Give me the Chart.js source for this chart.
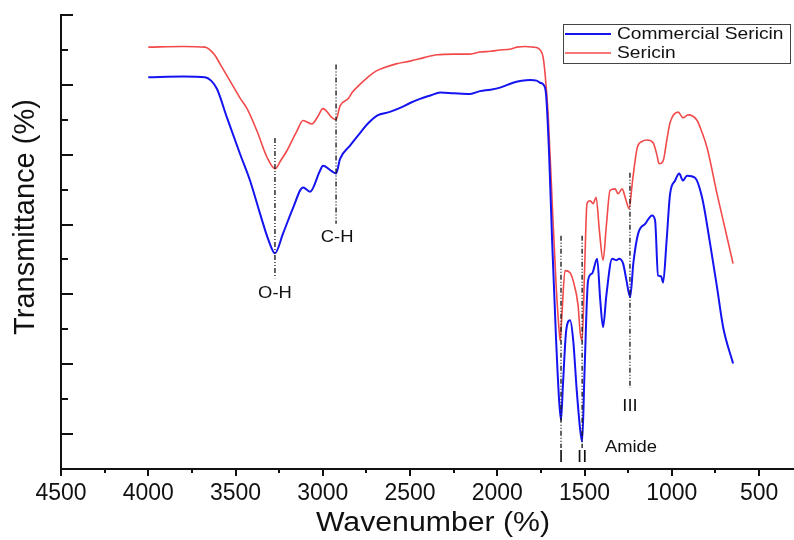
<!DOCTYPE html>
<html>
<head>
<meta charset="utf-8">
<script src="https://cdn.jsdelivr.net/npm/chart.js@4.4.0/dist/chart.umd.min.js"></script>
<style>
  html, body { margin: 0; padding: 0; background: #fff; }
</style>
</head>
<body>
<canvas id="chart" width="794" height="540"></canvas>
<script>
// FTIR spectra, values (wavenumber, transmittance a.u.)
const sericinWave = [4000, 3800, 3675, 3620, 3589, 3530, 3474, 3434, 3377, 3319, 3274, 3240, 3205, 3148, 3113, 3062, 3030, 2999, 2947, 2924, 2901, 2855, 2832, 2790, 2746, 2700, 2655, 2580, 2500, 2420, 2345, 2250, 2156, 2099, 2040, 1984, 1930, 1887, 1840, 1795, 1770, 1755, 1738, 1726, 1709, 1686, 1663, 1646, 1640, 1630, 1612, 1583, 1566, 1537, 1525, 1514, 1500, 1486, 1468, 1460, 1451, 1434, 1415, 1394, 1375, 1354, 1325, 1308, 1285, 1265, 1245, 1225, 1199, 1170, 1142, 1107, 1085, 1073, 1050, 1030, 1010, 964, 936, 907, 855, 830, 798, 741, 706, 649];
const sericinT = [60.4, 60.5, 60.4, 59.3, 58.0, 55.5, 53.1, 51.6, 48.4, 44.6, 43.0, 44.2, 45.6, 48.4, 49.9, 49.4, 50.4, 51.6, 50.3, 50.0, 52.0, 53.0, 53.9, 55.0, 56.0, 56.9, 57.4, 58.0, 58.4, 58.9, 59.3, 59.4, 59.4, 59.7, 59.8, 60.0, 60.1, 60.4, 60.5, 60.4, 60.3, 60.0, 59.0, 56.5, 50.9, 38.4, 26.3, 19.9, 18.4, 22.0, 28.4, 28.1, 27.0, 23.4, 19.5, 18.4, 28.4, 38.0, 38.4, 38.2, 38.0, 38.9, 34.1, 29.9, 34.9, 39.9, 40.1, 39.4, 40.1, 38.7, 37.3, 41.3, 45.9, 46.9, 47.1, 46.7, 44.9, 43.7, 44.1, 46.9, 49.6, 51.1, 50.3, 50.7, 49.9, 48.4, 46.0, 39.4, 35.6, 29.4];

const commercialWave = [4000, 3800, 3675, 3640, 3606, 3549, 3474, 3417, 3360, 3310, 3274, 3228, 3170, 3113, 3073, 3016, 2999, 2947, 2924, 2901, 2844, 2787, 2740, 2689, 2620, 2557, 2500, 2443, 2380, 2328, 2250, 2156, 2099, 2040, 1984, 1910, 1860, 1812, 1775, 1755, 1735, 1721, 1704, 1686, 1663, 1646, 1635, 1624, 1605, 1583, 1565, 1545, 1525, 1514, 1500, 1480, 1457, 1428, 1410, 1394, 1375, 1342, 1319, 1302, 1279, 1260, 1239, 1220, 1193, 1153, 1113, 1096, 1079, 1062, 1050, 1030, 1010, 981, 958, 936, 913, 867, 827, 781, 741, 706, 649];
const commercialT = [56.1, 56.2, 56.1, 55.6, 54.4, 50.3, 45.1, 41.3, 36.6, 32.7, 30.9, 33.7, 37.4, 40.3, 39.7, 42.7, 43.4, 42.6, 42.3, 44.4, 46.3, 48.1, 49.5, 50.6, 51.1, 51.7, 52.4, 53.0, 53.5, 53.9, 53.8, 53.7, 54.1, 54.3, 54.6, 55.3, 55.6, 55.7, 55.6, 55.3, 55.0, 53.7, 45.6, 32.7, 18.4, 9.9, 7.0, 12.0, 19.9, 21.3, 18.4, 11.3, 5.6, 3.9, 14.1, 27.0, 28.0, 30.1, 24.1, 20.3, 24.9, 30.1, 29.9, 30.1, 29.4, 27.0, 24.6, 29.6, 33.7, 35.1, 36.3, 35.6, 27.7, 27.6, 26.7, 32.7, 39.4, 41.3, 42.3, 41.3, 42.0, 41.7, 38.9, 32.3, 26.0, 20.3, 15.1];

const xTickLabels = [4500, 4000, 3500, 3000, 2500, 2000, 1500, 1000, 500];
const yMajorTicks = [5, 15, 25, 35, 45, 55, 65];
const yMinorTicks = [10, 20, 30, 40, 50, 60];

// band marker lines
const bandWave = [3274, 2924, 1635, 1514, 1240];
const bandTop = [47.4, 57.9, 33.4, 33.4, 42.4];
const bandBottom = [27.3, 35.1, 3.0, 3.0, 11.6];

// band labels: text, wavenumber, transmittance
const bandText = ["O-H", "C-H", "I", "II", "III", "Amide"];
const bandTextWave = [3274, 2918, 1635, 1514, 1240, 1234];
const bandTextT = [25.1, 33.1, 1.7, 1.7, 9.0, 3.1];

const FONT = '"Liberation Sans", Arial, sans-serif';

function wideText(ctx, text, x, y, size, sx) {
  ctx.save();
  ctx.font = size + "px " + FONT;
  ctx.translate(x, y);
  ctx.scale(sx, 1);
  ctx.fillText(text, 0, 0);
  ctx.restore();
}

const toPoints = (xs, ys) => xs.map((x, i) => ({ x: x, y: ys[i] }));

const markerSets = bandWave.map((w, i) => ({
  label: "band" + i,
  data: [{ x: w, y: bandTop[i] }, { x: w, y: bandBottom[i] }],
  borderColor: "#111",
  borderWidth: 1.3,
  borderDash: [5, 2, 1, 2, 1, 2],
  pointRadius: 0,
}));

// ticks, titles, annotations, legend box
const decorations = {
  id: "decorations",
  afterDraw(chart) {
    const { ctx, chartArea: a, scales: { x, y } } = chart;
    ctx.save();
    ctx.strokeStyle = "#111";
    ctx.lineWidth = 2;
    ctx.beginPath();
    for (let v = 4500; v >= 500; v -= 250) {
      const px = Math.round(x.getPixelForValue(v));
      ctx.moveTo(px, a.bottom);
      ctx.lineTo(px, a.bottom + (v % 500 === 0 ? 7 : 4));
    }
    yMajorTicks.forEach(v => {
      const py = Math.round(y.getPixelForValue(v));
      ctx.moveTo(a.left, py);
      ctx.lineTo(a.left + 12, py);
    });
    yMinorTicks.forEach(v => {
      const py = Math.round(y.getPixelForValue(v));
      ctx.moveTo(a.left, py);
      ctx.lineTo(a.left + 7, py);
    });
    ctx.stroke();

    ctx.fillStyle = "#111";
    ctx.textAlign = "center";
    ctx.textBaseline = "middle";
    bandText.forEach((t, i) => {
      wideText(ctx, t, x.getPixelForValue(bandTextWave[i]), y.getPixelForValue(bandTextT[i]), 16, 1.15);
    });

    // axis titles
    wideText(ctx, "Wavenumber (%)", 433, 524, 27, 1.12);
    ctx.save();
    ctx.translate(26, 217);
    ctx.rotate(-Math.PI / 2);
    ctx.font = "29px " + FONT;
    ctx.fillText("Transmittance (%)", 0, 0);
    ctx.restore();

    // legend
    ctx.lineWidth = 1;
    ctx.strokeStyle = "#444";
    ctx.strokeRect(563.5, 24.5, 227, 39);
    const items = chart.data.datasets.slice(bandWave.length);
    items.forEach((ds, i) => {
      const ly = 34 + i * 19;
      ctx.strokeStyle = ds.borderColor;
      ctx.lineWidth = ds.borderWidth;
      ctx.beginPath();
      ctx.moveTo(565, ly);
      ctx.lineTo(611, ly);
      ctx.stroke();
      ctx.textAlign = "left";
      ctx.fillStyle = "#111";
      wideText(ctx, ds.label, 617, ly, 17, 1.13);
    });
    ctx.restore();
  }
};

const chart = document.querySelector("#chart").getContext("2d");

new Chart(chart, {
  type: "line",
  data: {
    datasets: [
      ...markerSets,
      {
        label: "Commercial Sericin",
        data: toPoints(commercialWave, commercialT),
        borderColor: "#1414f0",
        borderWidth: 2,
        pointRadius: 0,
        cubicInterpolationMode: "monotone",
      },
      {
        label: "Sericin",
        data: toPoints(sericinWave, sericinT),
        borderColor: "#f24a4a",
        borderWidth: 1.6,
        pointRadius: 0,
        cubicInterpolationMode: "monotone",
      },
    ],
  },
  options: {
    responsive: false,
    animation: false,
    layout: { padding: { top: 15, right: 0, left: 0, bottom: 0 } },
    plugins: { legend: { display: false }, tooltip: { enabled: false } },
    scales: {
      x: {
        type: "linear",
        reverse: true,
        min: 300,
        max: 4500,
        afterFit: s => { s.height = 71; },
        afterBuildTicks: s => { s.ticks = xTickLabels.map(v => ({ value: v })); },
        grid: { display: false, drawTicks: false },
        border: { display: true, color: "#111", width: 2 },
        ticks: {
          padding: 11,
          autoSkip: false,
          maxRotation: 0,
          color: "#111",
          font: { family: FONT, size: 23 },
          callback: v => String(v),
        },
      },
      y: {
        min: 0,
        max: 65,
        afterFit: s => { s.width = 61; },
        grid: { display: false, drawTicks: false },
        border: { display: true, color: "#111", width: 2 },
        ticks: { display: false },
      },
    },
  },
  plugins: [decorations],
});
</script>
</body>
</html>
